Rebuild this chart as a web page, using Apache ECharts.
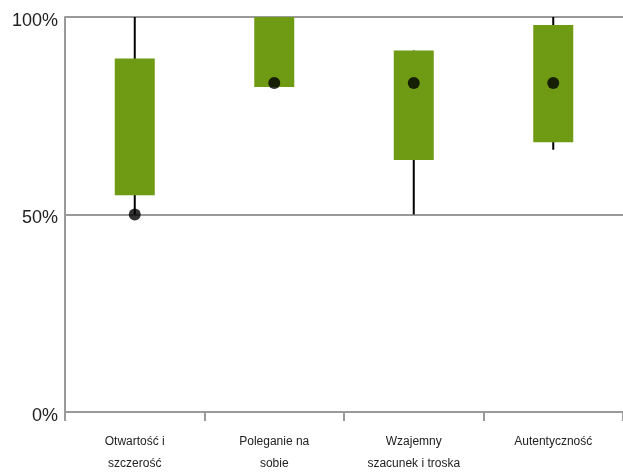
<!DOCTYPE html>
<html><head><meta charset="utf-8">
<script src="https://cdn.jsdelivr.net/npm/echarts@6/dist/echarts.min.js"></script>
<style>html,body{margin:0;padding:0;background:#fff}#c{width:623px;height:475px}</style>
</head><body><div id="c"></div>
<script>
var categories = ['Otwartość i\nszczerość', 'Poleganie na\nsobie', 'Wzajemny\nszacunek i troska', 'Autentyczność'];
var whiskerMin = [50, 82.3, 50, 66.4];
var boxLow = [54.9, 82.3, 63.8, 68.3];
var boxHigh = [89.5, 100, 91.5, 98];
var whiskerMax = [100, 100, 91.5, 100];
var dotValues = [50, 83.3, 83.3, 83.3];
var yTicks = [0, 50, 100];

var boxData = categories.map(function (c, i) {
  return [i, whiskerMin[i], boxLow[i], boxHigh[i], whiskerMax[i]];
});

var chart = echarts.init(document.getElementById('c'), null, {renderer: 'canvas'});
chart.setOption({
  animation: false,
  backgroundColor: '#fff',
  grid: {left: 65, right: 0, top: 17, bottom: 57, containLabel: false},
  xAxis: {
    type: 'category',
    data: categories,
    boundaryGap: true,
    axisLine: {show: true, lineStyle: {color: '#9a9a9a', width: 2}},
    axisTick: {show: true, length: 9, lineStyle: {color: '#9a9a9a', width: 2}},
    axisLabel: {fontFamily: 'Liberation Sans, Arial, sans-serif', fontSize: 12, color: '#222', lineHeight: 22, margin: 19, interval: 0}
  },
  yAxis: {
    type: 'value', min: 0, max: 100, interval: 50,
    axisLine: {show: true, lineStyle: {color: '#9a9a9a', width: 2}},
    axisTick: {show: false},
    splitLine: {show: true, lineStyle: {color: '#9a9a9a', width: 2}},
    axisLabel: {
      fontFamily: 'Liberation Sans, Arial, sans-serif', fontSize: 18, color: '#222', margin: 7,
      verticalAlign: 'top', lineHeight: 8,
      formatter: function (v) { return yTicks.indexOf(v) >= 0 ? v + '%' : ''; }
    }
  },
  series: [
    {
      type: 'custom',
      data: boxData,
      encode: {x: 0, y: [1, 2, 3, 4]},
      renderItem: function (params, api) {
        var i = api.value(0);
        var pMin = api.coord([i, api.value(1)]);
        var pLow = api.coord([i, api.value(2)]);
        var pHigh = api.coord([i, api.value(3)]);
        var pMax = api.coord([i, api.value(4)]);
        var w = 40;
        return {
          type: 'group',
          children: [
            {type: 'line', shape: {x1: pMin[0], y1: pMin[1], x2: pMax[0], y2: pMax[1]},
             style: {stroke: '#000', lineWidth: 2}},
            {type: 'rect', shape: {x: pLow[0] - w / 2, y: pHigh[1], width: w, height: pLow[1] - pHigh[1]},
             style: {fill: '#6f9a13', stroke: null}}
          ]
        };
      },
      z: 3
    },
    {
      type: 'scatter',
      data: dotValues.map(function (v, i) { return [i, v]; }),
      symbol: 'circle', symbolSize: 12,
      itemStyle: {color: '#000'},
      z: 4
    }
  ]
});
</script></body></html>
